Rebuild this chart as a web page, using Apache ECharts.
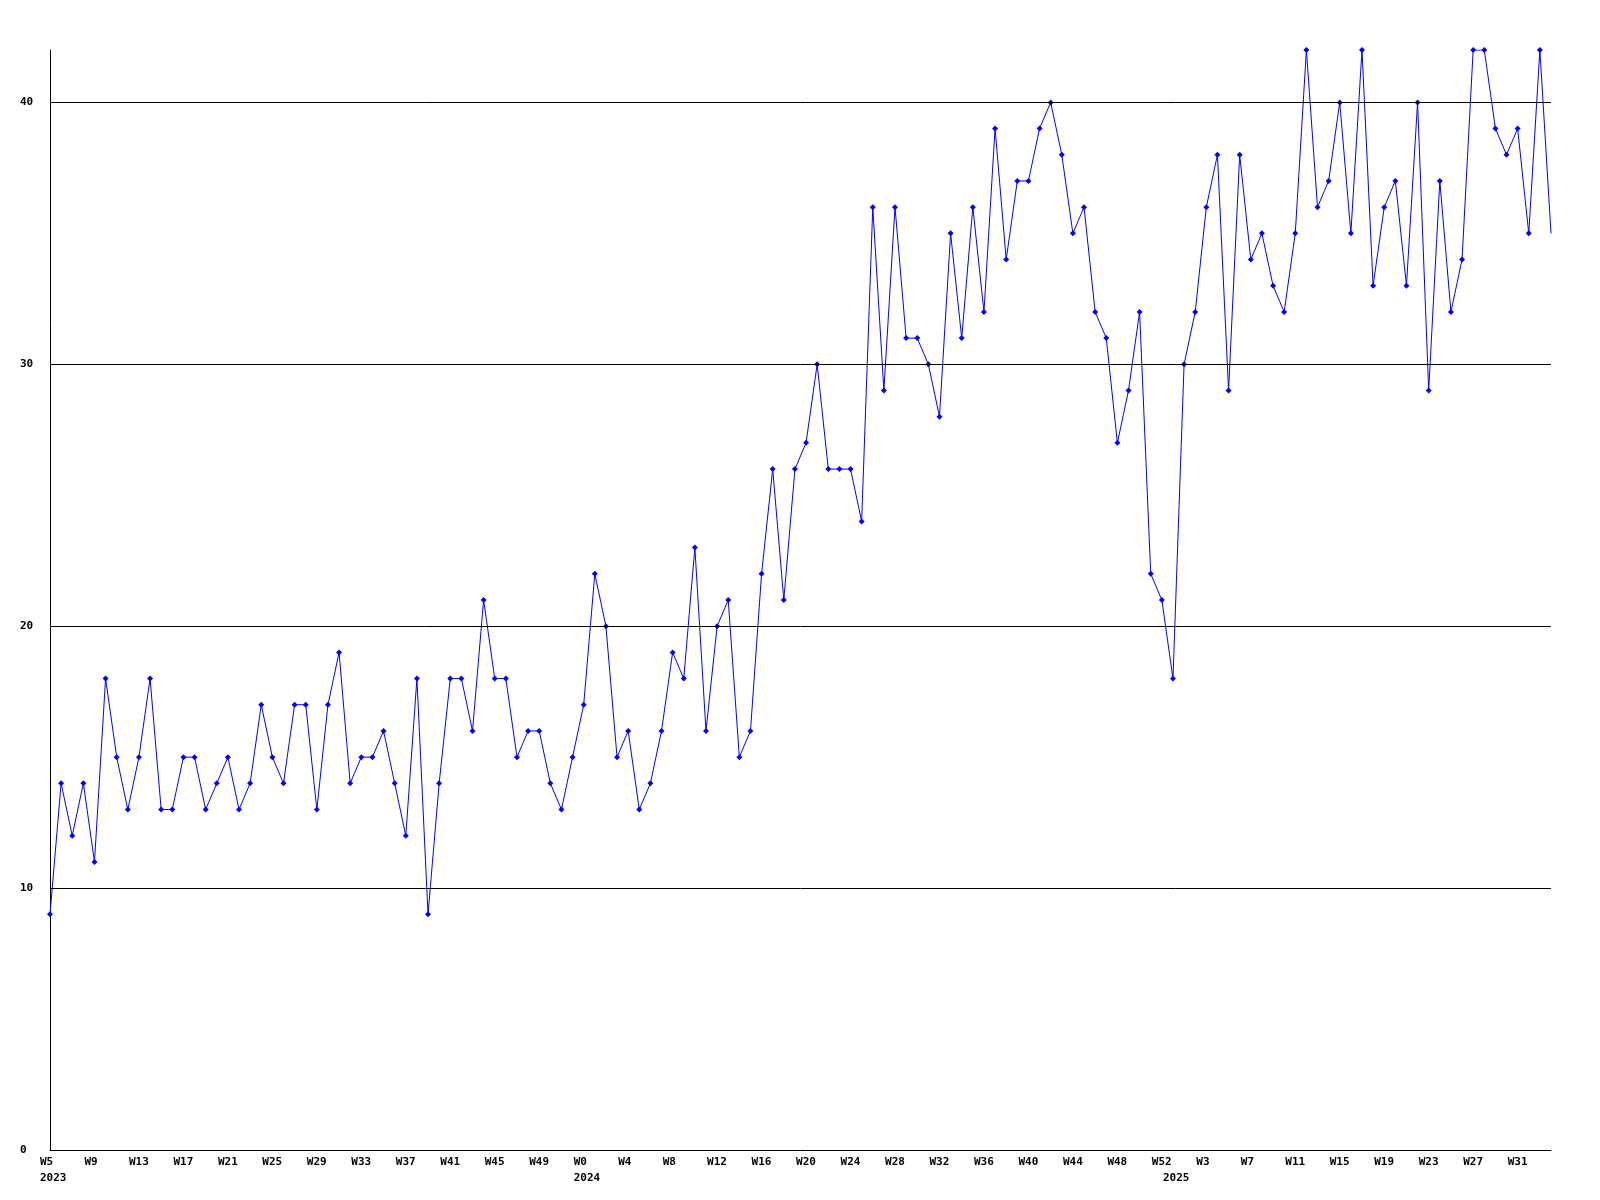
<!DOCTYPE html>
<html>
<head>
<meta charset="utf-8">
<script src="https://cdn.jsdelivr.net/npm/echarts@6/dist/echarts.min.js"></script>
<style>html,body{margin:0;padding:0;background:#fff}#c{width:1600px;height:1200px}</style>
</head>
<body>
<div id="c"></div>
<script>
// Week spans per year: [year, first week, last week]
const yearSpans = [['2023', 5, 52], ['2024', 0, 52], ['2025', 0, 34]];
const values = [
  9, 14, 12, 14, 11, 18, 15, 13, 15, 18, 13, 13, 15, 15, 13, 14, 15, 13, 14, 17,
  15, 14, 17, 17, 13, 17, 19, 14, 15, 15, 16, 14, 12, 18, 9, 14, 18, 18, 16, 21,
  18, 18, 15, 16, 16, 14, 13, 15, 17, 22, 20, 15, 16, 13, 14, 16, 19, 18, 23, 16,
  20, 21, 15, 16, 22, 26, 21, 26, 27, 30, 26, 26, 26, 24, 36, 29, 36, 31, 31, 30,
  28, 35, 31, 36, 32, 39, 34, 37, 37, 39, 40, 38, 35, 36, 32, 31, 27, 29, 32, 22,
  21, 18, 30, 32, 36, 38, 29, 38, 34, 35, 33, 32, 35, 42, 36, 37, 40, 35, 42, 33,
  36, 37, 33, 40, 29, 37, 32, 34, 42, 42, 39, 38, 39, 35, 42, 35
];
const yTicks = [0, 10, 20, 30, 40];
const yMax = 42;

const categories = [];
const weekLabels = [];
const yearStart = [];
yearSpans.forEach(([yr, a, b]) => {
  for (let w = a; w <= b; w++) {
    categories.push(yr + '-W' + w);
    weekLabels.push('W' + w);
    yearStart.push(w === a ? yr : null);
  }
});

const seriesData = values.map((v, i) => i === values.length - 1 ? { value: v, symbol: 'none' } : v);

const chart = echarts.init(document.getElementById('c'), null, { renderer: 'canvas' });
const font = '"DejaVu Sans Mono", monospace';
chart.setOption({
  animation: false,
  backgroundColor: '#ffffff',
  grid: { left: 50, right: 49, top: 50, bottom: 50, containLabel: false },
  xAxis: {
    type: 'category',
    data: categories,
    boundaryGap: false,
    axisLine: { show: true, lineStyle: { color: '#000', width: 1 } },
    axisTick: { show: false },
    splitLine: { show: false },
    axisLabel: {
      interval: (i) => i % 4 === 0 || yearStart[i] !== null,
      margin: 4,
      align: 'center',
      formatter: (val, i) => {
        const showW = i % 4 === 0;
        const yr = yearStart[i];
        if (showW && yr) return '{a|' + weekLabels[i] + '}\n{a|' + yr + '}';
        if (showW) return '{a|' + weekLabels[i] + '}';
        return '{a| }\n{a|' + yr + '}';
      },
      rich: {
        a: { width: 20, align: 'left', fontFamily: font, fontWeight: 'bold', fontSize: 11, color: '#000', lineHeight: 16 }
      }
    }
  },
  yAxis: {
    type: 'value',
    min: 0,
    max: yMax,
    interval: 10,
    axisLine: { show: true, lineStyle: { color: '#000', width: 1 } },
    axisTick: { show: false },
    splitLine: { show: false },
    axisLabel: {
      showMaxLabel: false,
      align: 'left',
      margin: 30,
      fontFamily: font,
      fontWeight: 'bold',
      fontSize: 11,
      color: '#000'
    }
  },
  series: [
    {
      type: 'line',
      data: [],
      silent: true,
      z: 1,
      markLine: {
        silent: true,
        symbol: 'none',
        label: { show: false },
        lineStyle: { color: '#000', width: 1, type: 'solid' },
        data: yTicks.filter(t => t > 0).map(t => ({ yAxis: t }))
      }
    },
    {
      type: 'line',
      data: seriesData,
      z: 3,
      symbol: 'diamond',
      symbolSize: 6,
      showAllSymbol: true,
      lineStyle: { color: '#0000ff', width: 1 },
      itemStyle: { color: '#0000ff' }
    }
  ]
});
</script>
</body>
</html>
